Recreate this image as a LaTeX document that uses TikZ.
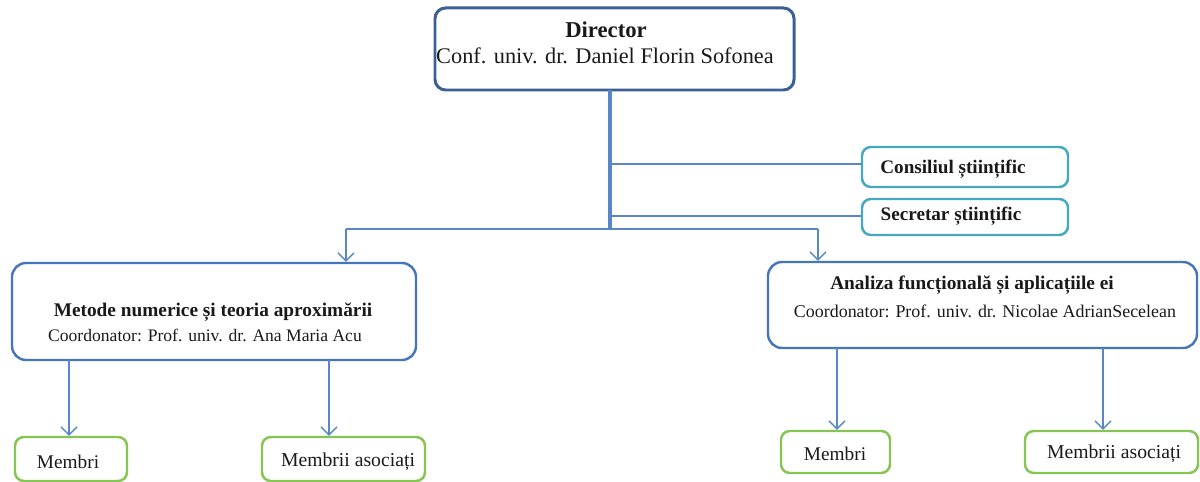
\documentclass[tikz,border=0pt]{standalone}
\usepackage{fontspec}
\setmainfont{Liberation Serif}
\usetikzlibrary{arrows.meta,fit}
\definecolor{dirblue}{RGB}{60,95,150}
\definecolor{boxblue}{RGB}{70,118,186}
\definecolor{lineblue}{RGB}{88,135,200}
\definecolor{teal}{RGB}{68,168,192}
\definecolor{grn}{RGB}{134,196,84}
\definecolor{txt}{RGB}{25,25,25}
\tikzset{
  dirbox/.style={draw=dirblue,line width=1.7pt,rounded corners=6pt,inner sep=0pt},
  mainbox/.style={draw=boxblue,line width=1.4pt,rounded corners=8pt,inner sep=0pt},
  tealbox/.style={draw=teal,line width=1.4pt,rounded corners=5pt,inner sep=0pt},
  grnbox/.style={draw=grn,line width=1.4pt,rounded corners=5pt,inner sep=0pt},
  lbl/.style={inner sep=0pt,text=txt},
  trunk/.style={draw=lineblue,line width=1.8pt},
  thin/.style={draw=lineblue,line width=0.7pt},
  arr/.style={draw=lineblue,line width=0.7pt,-{Straight Barb[length=4.5pt,width=9pt,line width=0.8pt]}}
}
\begin{document}
\begin{tikzpicture}[x=0.02cm,y=-0.02cm]
\useasboundingbox (0,0) rectangle (1200,482);
% boxes
\node[dirbox,fit={(435,8) (794,90)}] (dir) {};
\node[tealbox,fit={(862,147) (1068,187)}] (cons) {};
\node[tealbox,fit={(862,199) (1068,235)}] (sec) {};
\node[mainbox,fit={(12,263) (416,360)}] (lb) {};
\node[mainbox,fit={(768,262) (1197,348)}] (rb) {};
\node[grnbox,fit={(15,437) (127,481)}] (m1) {};
\node[grnbox,fit={(262,437) (425,481)}] (a1) {};
\node[grnbox,fit={(781,431) (890,473)}] (m2) {};
\node[grnbox,fit={(1025,431) (1198,473)}] (a2) {};
% texts
\node[lbl,font=\fontsize{12.9}{15}\selectfont\bfseries] (dirt) at (606,30) {Director};
\node[lbl,font=\fontsize{12.7}{15}\selectfont] (dirn) at (605,56) {Conf. univ. dr. Daniel Florin Sofonea};
\node[lbl,font=\fontsize{10.9}{13}\selectfont\bfseries] (const) at (953,169) {Consiliul științific};
\node[lbl,font=\fontsize{10.9}{13}\selectfont\bfseries] (sect) at (951,216) {Secretar științific};
\node[lbl,font=\fontsize{11}{13}\selectfont\bfseries] (lbt) at (213,312) {Metode numerice și teoria aproximării};
\node[lbl,font=\fontsize{10}{12}\selectfont] (lbc) at (205,335) {Coordonator: Prof. univ. dr. Ana Maria Acu};
\node[lbl,font=\fontsize{11}{13}\selectfont\bfseries] (rbt) at (972,285) {Analiza funcțională și aplicațiile ei};
\node[lbl,font=\fontsize{10.2}{12}\selectfont] (rbc) at (985,311) {Coordonator: Prof. univ. dr. Nicolae AdrianSecelean};
\node[lbl,font=\fontsize{11}{13}\selectfont] (m1t) at (68,462) {Membri};
\node[lbl,font=\fontsize{11.2}{13}\selectfont] (a1t) at (348,462) {Membrii asociați};
\node[lbl,font=\fontsize{11}{13}\selectfont] (m2t) at (835,454) {Membri};
\node[lbl,font=\fontsize{11.2}{13}\selectfont] (a2t) at (1114,454) {Membrii asociați};
% connector points
\coordinate (t0) at (610,90);
\coordinate (t1) at (610,230);
\coordinate (bc) at (610,164);
\coordinate (bs) at (610,216);
\coordinate (hl) at (346,229);
\coordinate (hr) at (818,229);
\coordinate (l1) at (69,360);
\coordinate (l2) at (329,360);
\coordinate (r1) at (837,348);
\coordinate (r2) at (1103,348);
% connectors
\draw[thin] (bc) -- (cons.west |- bc);
\draw[thin] (bs) -- (sec.west |- bs);
\draw[thin] (hl) -- (hr);
\draw[trunk] (t0) -- (t1);
\draw[arr] (hl) -- (hl |- lb.north);
\draw[arr] (hr) -- (hr |- rb.north);
\draw[arr] (l1) -- (l1 |- m1.north);
\draw[arr] (l2) -- (l2 |- a1.north);
\draw[arr] (r1) -- (r1 |- m2.north);
\draw[arr] (r2) -- (r2 |- a2.north);
\end{tikzpicture}
\end{document}
